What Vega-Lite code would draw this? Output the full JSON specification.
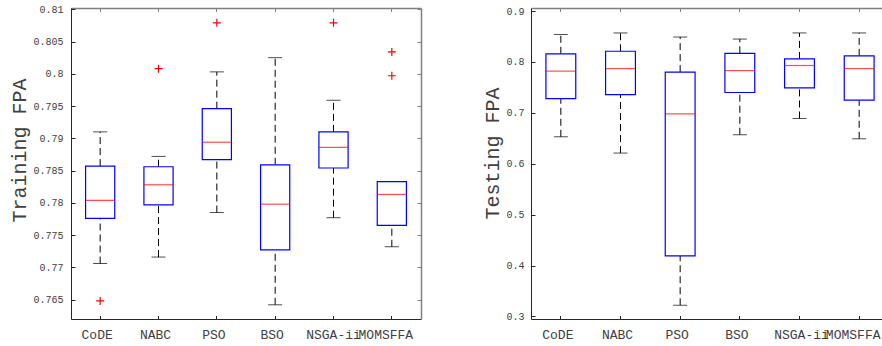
{
  "$schema": "https://vega.github.io/schema/vega-lite/v6.json",
  "background": "#ffffff",
  "padding": {"left": 9, "top": 4, "right": 0, "bottom": 0},
  "spacing": 60,
  "config": {
    "view": {"stroke": null},
    "font": "Liberation Mono",
    "style": {
      "guide-label": {"font": "Liberation Mono"},
      "guide-title": {"font": "Liberation Mono"}
    },
    "axis": {
      "labelFont": "Liberation Mono",
      "titleFont": "Liberation Mono",
      "grid": false,
      "labelColor": "#404040",
      "titleColor": "#404040",
      "domainColor": "#262626",
      "tickColor": "#262626",
      "titleFontWeight": "normal"
    }
  },
  "datasets": {
    "train": [
      {"method": "CoDE", "lower": 0.7706, "q1": 0.7776, "median": 0.7804, "q3": 0.7857, "upper": 0.791},
      {"method": "NABC", "lower": 0.7716, "q1": 0.7797, "median": 0.7828, "q3": 0.7856, "upper": 0.7872},
      {"method": "PSO", "lower": 0.7785, "q1": 0.7867, "median": 0.7894, "q3": 0.7946, "upper": 0.8003},
      {"method": "BSO", "lower": 0.7642, "q1": 0.7727, "median": 0.7798, "q3": 0.7859, "upper": 0.8025},
      {"method": "NSGA-ii", "lower": 0.7777, "q1": 0.7854, "median": 0.7886, "q3": 0.791, "upper": 0.7959},
      {"method": "MOMSFFA", "lower": 0.7732, "q1": 0.7765, "median": 0.7813, "q3": 0.7833, "upper": 0.7833}
    ],
    "trainOut": [
      {"method": "CoDE", "value": 0.7648},
      {"method": "NABC", "value": 0.8008},
      {"method": "PSO", "value": 0.8079},
      {"method": "NSGA-ii", "value": 0.8079},
      {"method": "MOMSFFA", "value": 0.8034},
      {"method": "MOMSFFA", "value": 0.7997}
    ],
    "test": [
      {"method": "CoDE", "lower": 0.653, "q1": 0.728, "median": 0.782, "q3": 0.816, "upper": 0.854},
      {"method": "NABC", "lower": 0.621, "q1": 0.736, "median": 0.787, "q3": 0.821, "upper": 0.857},
      {"method": "PSO", "lower": 0.322, "q1": 0.419, "median": 0.698, "q3": 0.78, "upper": 0.849},
      {"method": "BSO", "lower": 0.657, "q1": 0.74, "median": 0.783, "q3": 0.817, "upper": 0.845},
      {"method": "NSGA-ii", "lower": 0.689, "q1": 0.749, "median": 0.793, "q3": 0.806, "upper": 0.857},
      {"method": "MOMSFFA", "lower": 0.649, "q1": 0.725, "median": 0.787, "q3": 0.812, "upper": 0.857}
    ]
  },
  "hconcat": [
    {
      "width": 350,
      "height": 311,
      "data": {"name": "train"},
      "layer": [
        {
          "mark": {"type": "rule", "color": "#000000", "strokeDash": [7, 4], "strokeWidth": 1},
          "encoding": {
            "x": {"field": "method", "type": "nominal", "scale": {"domain": ["CoDE", "NABC", "PSO", "BSO", "NSGA-ii", "MOMSFFA"], "paddingInner": 0, "paddingOuter": 0},
                  "axis": {"orient": "bottom", "title": null, "labelAngle": 0, "labelFont": "Liberation Mono", "labelFontSize": 13, "tickSize": -3.5, "labelPadding": 13, "labelOverlap": false,
                           "labelOffset": {"condition": [{"test": "datum.value === 'MOMSFFA'", "value": -6}, {"test": "datum.value === 'NSGA-ii'", "value": 0}], "value": -3}}},
            "y": {"field": "lower", "type": "quantitative", "scale": {"domain": [0.762, 0.8102], "zero": false, "nice": false},
                  "axis": {"title": "Training FPA", "values": [0.765, 0.77, 0.775, 0.78, 0.785, 0.79, 0.795, 0.8, 0.805, 0.81], "format": "~g", "labelFont": "Liberation Mono", "labelFontSize": 10, "tickSize": -4, "labelPadding": 12, "titleFont": "Liberation Mono", "titleFontSize": 20, "titleX": -52, "titleY": 142, "titleBaseline": "middle"}},
            "y2": {"field": "q1"}
          }
        },
        {
          "mark": {"type": "rule", "color": "#000000", "strokeDash": [7, 4], "strokeWidth": 1},
          "encoding": {
            "x": {"field": "method", "type": "nominal", "scale": {"domain": ["CoDE", "NABC", "PSO", "BSO", "NSGA-ii", "MOMSFFA"], "paddingInner": 0, "paddingOuter": 0}, "axis": null},
            "y": {"field": "q3", "type": "quantitative", "scale": {"domain": [0.762, 0.8102], "zero": false, "nice": false}, "axis": null},
            "y2": {"field": "upper"}
          }
        },
        {
          "mark": {"type": "tick", "color": "#000000", "size": 14, "thickness": 1},
          "encoding": {
            "x": {"field": "method", "type": "nominal", "scale": {"domain": ["CoDE", "NABC", "PSO", "BSO", "NSGA-ii", "MOMSFFA"], "paddingInner": 0, "paddingOuter": 0}, "axis": null},
            "y": {"field": "lower", "type": "quantitative", "scale": {"domain": [0.762, 0.8102], "zero": false, "nice": false}, "axis": null}
          }
        },
        {
          "mark": {"type": "tick", "color": "#000000", "size": 14, "thickness": 1},
          "encoding": {
            "x": {"field": "method", "type": "nominal", "scale": {"domain": ["CoDE", "NABC", "PSO", "BSO", "NSGA-ii", "MOMSFFA"], "paddingInner": 0, "paddingOuter": 0}, "axis": null},
            "y": {"field": "upper", "type": "quantitative", "scale": {"domain": [0.762, 0.8102], "zero": false, "nice": false}, "axis": null}
          }
        },
        {
          "mark": {"type": "bar", "fill": "#ffffff", "stroke": "#0000ff", "strokeWidth": 1.2, "width": {"band": 0.5}},
          "encoding": {
            "x": {"field": "method", "type": "nominal", "scale": {"domain": ["CoDE", "NABC", "PSO", "BSO", "NSGA-ii", "MOMSFFA"], "paddingInner": 0, "paddingOuter": 0}, "axis": null},
            "y": {"field": "q1", "type": "quantitative", "scale": {"domain": [0.762, 0.8102], "zero": false, "nice": false}, "axis": null},
            "y2": {"field": "q3"}
          }
        },
        {
          "mark": {"type": "tick", "color": "#ff0000", "size": 29, "thickness": 1.2},
          "encoding": {
            "x": {"field": "method", "type": "nominal", "scale": {"domain": ["CoDE", "NABC", "PSO", "BSO", "NSGA-ii", "MOMSFFA"], "paddingInner": 0, "paddingOuter": 0}, "axis": null},
            "y": {"field": "median", "type": "quantitative", "scale": {"domain": [0.762, 0.8102], "zero": false, "nice": false}, "axis": null}
          }
        },
        {
          "data": {"name": "trainOut"},
          "mark": {"type": "point", "shape": "M-1,0H1M0,-1V1", "size": 64, "filled": false, "color": "#ff0000", "strokeWidth": 1.2, "opacity": 1},
          "encoding": {
            "x": {"field": "method", "type": "nominal", "scale": {"domain": ["CoDE", "NABC", "PSO", "BSO", "NSGA-ii", "MOMSFFA"], "paddingInner": 0, "paddingOuter": 0}, "axis": null},
            "y": {"field": "value", "type": "quantitative", "scale": {"domain": [0.762, 0.8102], "zero": false, "nice": false}, "axis": null}
          }
        },
        {
          "mark": {"type": "point", "opacity": 0},
          "encoding": {
            "x": {"field": "method", "type": "nominal", "scale": {"domain": ["CoDE", "NABC", "PSO", "BSO", "NSGA-ii", "MOMSFFA"], "paddingInner": 0, "paddingOuter": 0},
                  "axis": {"orient": "top", "title": null, "labels": false, "tickSize": -3.5, "domainColor": "#808080", "tickColor": "#808080", "domainWidth": 1.5}},
            "y": {"field": "median", "type": "quantitative", "scale": {"domain": [0.762, 0.8102], "zero": false, "nice": false},
                  "axis": {"orient": "right", "title": null, "labels": false, "tickSize": -4, "values": [0.765, 0.77, 0.775, 0.78, 0.785, 0.79, 0.795, 0.8, 0.805, 0.81], "domainColor": "#808080", "tickColor": "#808080", "domainWidth": 1.5}}
          }
        }
      ],
      "resolve": {"axis": {"x": "independent", "y": "independent"}}
    },
    {
      "width": 358,
      "height": 311,
      "data": {"name": "test"},
      "layer": [
        {
          "mark": {"type": "rule", "color": "#000000", "strokeDash": [7, 4], "strokeWidth": 1},
          "encoding": {
            "x": {"field": "method", "type": "nominal", "scale": {"domain": ["CoDE", "NABC", "PSO", "BSO", "NSGA-ii", "MOMSFFA"], "paddingInner": 0, "paddingOuter": 0},
                  "axis": {"orient": "bottom", "title": null, "labelAngle": 0, "labelFont": "Liberation Mono", "labelFontSize": 13, "tickSize": -3.5, "labelPadding": 13, "labelOverlap": false,
                           "labelOffset": {"condition": [{"test": "datum.value === 'MOMSFFA'", "value": -6}, {"test": "datum.value === 'NSGA-ii'", "value": 2}], "value": -3}}},
            "y": {"field": "lower", "type": "quantitative", "scale": {"domain": [0.295, 0.906], "zero": false, "nice": false},
                  "axis": {"title": "Testing FPA", "values": [0.3, 0.4, 0.5, 0.6, 0.7, 0.8, 0.9], "format": "~g", "labelFont": "Liberation Mono", "labelFontSize": 10, "tickSize": -4, "labelPadding": 11, "titleFont": "Liberation Mono", "titleFontSize": 20, "titleX": -39, "titleY": 145, "titleBaseline": "middle"}},
            "y2": {"field": "q1"}
          }
        },
        {
          "mark": {"type": "rule", "color": "#000000", "strokeDash": [7, 4], "strokeWidth": 1},
          "encoding": {
            "x": {"field": "method", "type": "nominal", "scale": {"domain": ["CoDE", "NABC", "PSO", "BSO", "NSGA-ii", "MOMSFFA"], "paddingInner": 0, "paddingOuter": 0}, "axis": null},
            "y": {"field": "q3", "type": "quantitative", "scale": {"domain": [0.295, 0.906], "zero": false, "nice": false}, "axis": null},
            "y2": {"field": "upper"}
          }
        },
        {
          "mark": {"type": "tick", "color": "#000000", "size": 14, "thickness": 1},
          "encoding": {
            "x": {"field": "method", "type": "nominal", "scale": {"domain": ["CoDE", "NABC", "PSO", "BSO", "NSGA-ii", "MOMSFFA"], "paddingInner": 0, "paddingOuter": 0}, "axis": null},
            "y": {"field": "lower", "type": "quantitative", "scale": {"domain": [0.295, 0.906], "zero": false, "nice": false}, "axis": null}
          }
        },
        {
          "mark": {"type": "tick", "color": "#000000", "size": 14, "thickness": 1},
          "encoding": {
            "x": {"field": "method", "type": "nominal", "scale": {"domain": ["CoDE", "NABC", "PSO", "BSO", "NSGA-ii", "MOMSFFA"], "paddingInner": 0, "paddingOuter": 0}, "axis": null},
            "y": {"field": "upper", "type": "quantitative", "scale": {"domain": [0.295, 0.906], "zero": false, "nice": false}, "axis": null}
          }
        },
        {
          "mark": {"type": "bar", "fill": "#ffffff", "stroke": "#0000ff", "strokeWidth": 1.2, "width": {"band": 0.5}},
          "encoding": {
            "x": {"field": "method", "type": "nominal", "scale": {"domain": ["CoDE", "NABC", "PSO", "BSO", "NSGA-ii", "MOMSFFA"], "paddingInner": 0, "paddingOuter": 0}, "axis": null},
            "y": {"field": "q1", "type": "quantitative", "scale": {"domain": [0.295, 0.906], "zero": false, "nice": false}, "axis": null},
            "y2": {"field": "q3"}
          }
        },
        {
          "mark": {"type": "tick", "color": "#ff0000", "size": 30, "thickness": 1.2},
          "encoding": {
            "x": {"field": "method", "type": "nominal", "scale": {"domain": ["CoDE", "NABC", "PSO", "BSO", "NSGA-ii", "MOMSFFA"], "paddingInner": 0, "paddingOuter": 0}, "axis": null},
            "y": {"field": "median", "type": "quantitative", "scale": {"domain": [0.295, 0.906], "zero": false, "nice": false}, "axis": null}
          }
        },
        {
          "mark": {"type": "point", "opacity": 0},
          "encoding": {
            "x": {"field": "method", "type": "nominal", "scale": {"domain": ["CoDE", "NABC", "PSO", "BSO", "NSGA-ii", "MOMSFFA"], "paddingInner": 0, "paddingOuter": 0},
                  "axis": {"orient": "top", "title": null, "labels": false, "tickSize": -3.5, "domainColor": "#808080", "tickColor": "#808080", "domainWidth": 1.5}},
            "y": {"field": "median", "type": "quantitative", "scale": {"domain": [0.295, 0.906], "zero": false, "nice": false},
                  "axis": {"orient": "right", "title": null, "labels": false, "tickSize": -4, "values": [0.3, 0.4, 0.5, 0.6, 0.7, 0.8, 0.9], "domainColor": "#808080", "tickColor": "#808080", "domainWidth": 1.5}}
          }
        }
      ],
      "resolve": {"axis": {"x": "independent", "y": "independent"}}
    }
  ]
}
